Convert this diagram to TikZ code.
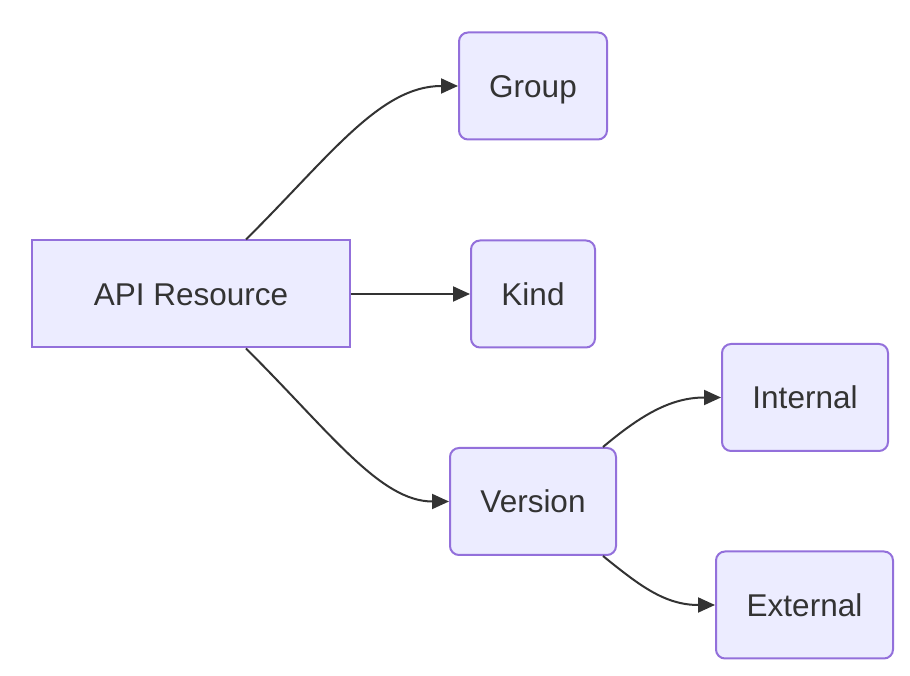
\documentclass[tikz,border=0pt]{standalone}
\usepackage{fontspec}
\setmainfont{Liberation Sans}
\usetikzlibrary{arrows.meta}
\definecolor{nodefill}{HTML}{ECECFF}
\definecolor{nodeline}{HTML}{9370DB}
\definecolor{ink}{HTML}{333333}
\tikzset{
  box/.style={draw=nodeline, fill=nodefill, line width=2pt, text=ink,
    font=\fontsize{31.5}{38}\selectfont, inner sep=0pt, minimum height=107pt,
    text height=22.5pt, text depth=0pt},
  rbox/.style={box, rounded corners=9pt},
  edge/.style={draw=ink, line width=2pt, -{Triangle[length=17pt,width=15pt]}},
}
\begin{document}
\begin{tikzpicture}[x=1pt,y=1pt]
\useasboundingbox (0,0) rectangle (910,676);
\node[box, minimum width=318pt] (api) at (191,382) {API Resource};
\node[rbox, minimum width=148pt] (group) at (533,590) {Group};
\node[rbox, minimum width=124pt] (kind) at (533,382) {Kind};
\node[rbox, minimum width=166pt] (version) at (533,174.5) {Version};
\node[rbox, minimum width=166pt] (internal) at (805,278.5) {Internal};
\node[rbox, minimum width=177pt] (external) at (804.5,71) {External};
\draw[edge] ([xshift=55pt]api.north) .. controls (330,520) and (380,590) .. (group.west);
\draw[edge] (api.east) -- (kind.west);
\draw[edge] ([xshift=55pt]api.south) .. controls (330,244) and (380,174.5) .. (version.west);
\draw[edge] ([xshift=70pt]version.north) .. controls (640,260) and (670,278.5) .. (internal.west);
\draw[edge] ([xshift=70pt]version.south) .. controls (640,90) and (665,71) .. (external.west);
\end{tikzpicture}
\end{document}
